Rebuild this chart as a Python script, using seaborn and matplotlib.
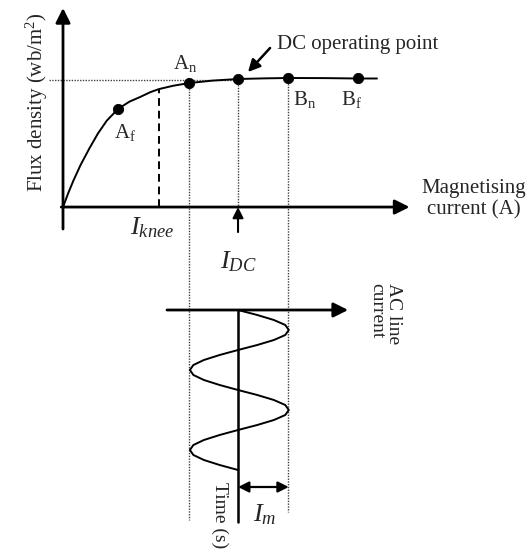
import matplotlib
matplotlib.use("Agg")
import matplotlib.pyplot as plt
import seaborn as sns

# ---- values (arbitrary units) ----
# magnetisation curve: current (A) vs flux density
curve_current = [0, 0.03, 0.06, 0.10, 0.15, 0.20, 0.25, 0.314, 0.38, 0.44, 0.50,
                 0.549, 0.63, 0.72, 0.85, 1.0, 1.15, 1.286, 1.50, 1.686, 1.794]
curve_flux = [0, 0.11, 0.21, 0.33, 0.46, 0.58, 0.68, 0.772, 0.83, 0.866, 0.905,
              0.929, 0.955, 0.976, 0.995, 1.008, 1.013, 1.016, 1.015, 1.012, 1.012]

# marked operating points
point_names = ["Af", "An", "DC", "Bn", "Bf"]
point_current = [0.314, 0.72, 1.0, 1.286, 1.686]
point_flux = [0.772, 0.976, 1.008, 1.016, 1.012]

i_knee = 0.549
flux_knee = 0.929
i_dc = 1.0
flux_sat = 1.0
i_m = 0.29

# AC line current vs time (ms), two cycles read every 1.25 ms
wave_time = [0, 1.25, 2.5, 3.75, 5, 6.25, 7.5, 8.75, 10, 11.25, 12.5, 13.75, 15,
             16.25, 17.5, 18.75, 20, 21.25, 22.5, 23.75, 25, 26.25, 27.5, 28.75,
             30, 31.25, 32.5, 33.75, 35, 36.25, 37.5, 38.75, 40]
wave_current = [1.0, 1.11, 1.205, 1.27, 1.29, 1.27, 1.205, 1.11, 1.0, 0.895,
                0.805, 0.745, 0.725, 0.745, 0.805, 0.895, 1.0, 1.11, 1.205, 1.27,
                1.29, 1.27, 1.205, 1.11, 1.0, 0.895, 0.805, 0.745, 0.725, 0.745,
                0.805, 0.895, 1.0]

# ---- style ----
sns.set_theme(style="white")
plt.rcParams["font.family"] = ["Liberation Serif", "DejaVu Serif"]
plt.rcParams["mathtext.fontset"] = "custom"
plt.rcParams["mathtext.rm"] = "Liberation Serif"
plt.rcParams["mathtext.it"] = "Liberation Serif:italic"

fig = plt.figure(figsize=(5.31, 5.50), dpi=100)
ax = fig.add_axes([0, 0.5, 1, 0.5])      # B-H curve
ax2 = fig.add_axes([0, 0, 1, 0.5])       # AC current vs time
for a in (ax, ax2):
    a.set_xlim(-0.36, 2.674)
    a.axis("off")
ax.set_ylim(-0.535, 1.63)
ax2.set_ylim(60, -8.75)

arrow = dict(arrowstyle="-|>", color="black", lw=2, mutation_scale=22,
             shrinkA=0, shrinkB=0)

# axes of the B-H plot
ax.annotate("", xy=(0, 1.567), xytext=(0, -0.173), arrowprops=arrow)
ax.annotate("", xy=(1.98, 0), xytext=(-0.01, 0), arrowprops=arrow)

# guide lines
dots = dict(color="0.25", lw=1.0, linestyle=(0, (1, 1)), clip_on=False)
ax.plot([-0.08, i_dc], [flux_sat, flux_sat], **dots)
ax.plot([point_current[1]] * 2, [point_flux[1], -2.465], **dots)
ax.plot([point_current[2]] * 2, [point_flux[2], 0], **dots)
ax.plot([point_current[3]] * 2, [point_flux[3], -2.40], **dots)
ax.plot([i_knee, i_knee], [0, flux_knee], color="black", lw=1.4, linestyle=(0, (4, 2.5)))

# curve and points
sns.lineplot(x=curve_current, y=curve_flux, ax=ax, color="black", lw=1.4,
             sort=False, estimator=None)
sns.scatterplot(x=point_current, y=point_flux, ax=ax, color="black", s=55,
                edgecolor="black", zorder=5)

fs = 15
ax.text(0.354, 0.59, r"$\mathrm{A_f}$", fontsize=fs, ha="center", va="center")
ax.text(0.697, 1.134, r"$\mathrm{A_n}$", fontsize=fs, ha="center", va="center")
ax.text(1.383, 0.843, r"$\mathrm{B_n}$", fontsize=fs, ha="center", va="center")
ax.text(1.651, 0.843, r"$\mathrm{B_f}$", fontsize=fs, ha="center", va="center")
ax.text(1.223, 1.276, "DC operating point", fontsize=fs, ha="left", va="center")
ax.annotate("", xy=(1.057, 1.063), xytext=(1.183, 1.252),
            arrowprops=dict(arrow, lw=1.8, mutation_scale=18))

ax.text(-0.149, 0.827, r"Flux density (wb/m$^2$)", fontsize=fs, rotation=90,
        ha="center", va="center")
ax.text(2.349, 0.06, "Magnetising\ncurrent (A)", fontsize=fs, ha="center",
        va="center", multialignment="center", linespacing=1.2)

ax.text(0.509, -0.165, r"$I_{knee}$", fontsize=19, ha="center", va="center")
ax.annotate("", xy=(i_dc, 0), xytext=(i_dc, -0.197),
            arrowprops=dict(arrow, lw=1.5, mutation_scale=16))
ax.text(i_dc, -0.433, r"$I_{DC}$", fontsize=19, ha="center", va="center")

# AC current waveform
ax2.annotate("", xy=(1.629, 0), xytext=(0.594, 0), arrowprops=arrow)
ax2.plot([i_dc, i_dc], [0, 53], color="black", lw=1.8)
sns.lineplot(x=wave_current, y=wave_time, ax=ax2, color="black", lw=1.4,
             sort=False, estimator=None)
ax2.annotate("", xy=(i_dc + i_m, 44.25), xytext=(i_dc, 44.25),
             arrowprops=dict(arrowstyle="<|-|>", color="black", lw=1.6,
                             mutation_scale=16, shrinkA=0, shrinkB=0))
ax2.text(1.154, 51.25, r"$I_m$", fontsize=19, ha="center", va="center")
ax2.text(0.897, 43.0, "Time (s)", fontsize=14, rotation=270, ha="center", va="top")
ax2.text(1.84, -6.75, "AC line\ncurrent", fontsize=14, rotation=270, ha="center",
         va="top", multialignment="left", linespacing=1.0)

fig.savefig("out.png", dpi=100)
